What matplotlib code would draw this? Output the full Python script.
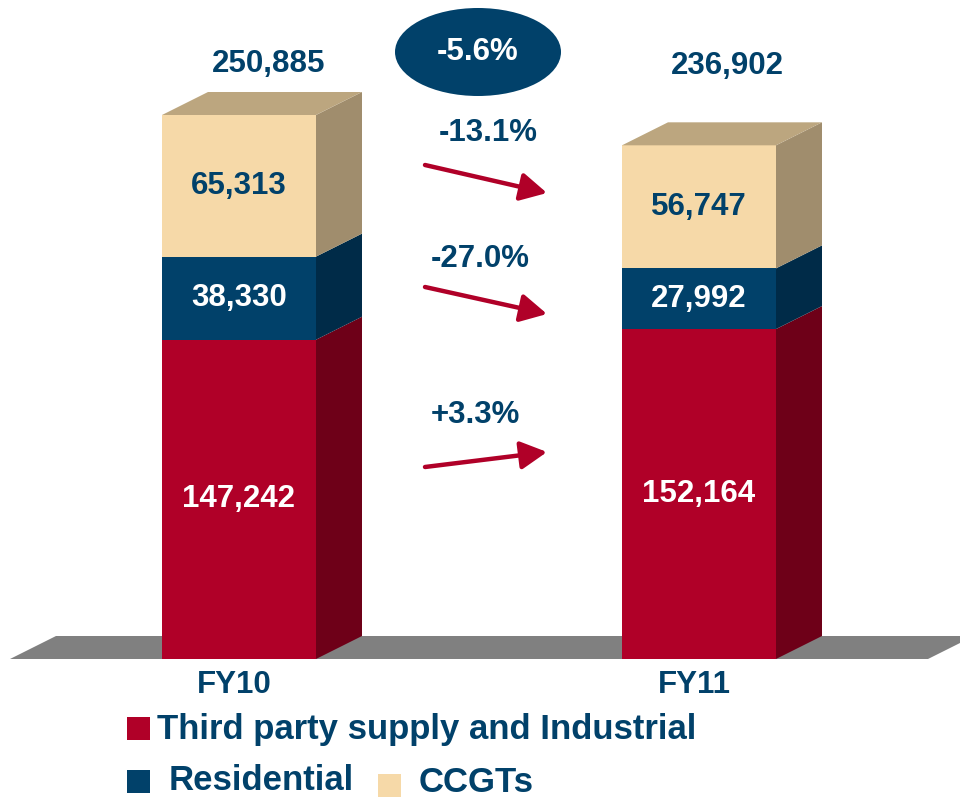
import matplotlib
matplotlib.use("Agg")
import matplotlib.pyplot as plt
from matplotlib.patches import Polygon, Ellipse, Rectangle

plt.rcParams['font.family'] = ['Liberation Sans', 'DejaVu Sans']

# ---- data ----
categories = ["FY10", "FY11"]
series_names = ["Third party supply and Industrial", "Residential", "CCGTs"]
industrial = [147242, 152164]
residential = [38330, 27992]
ccgt = [65313, 56747]
totals = [250885, 236902]
changes = ["+3.3%", "-27.0%", "-13.1%"]
total_change = "-5.6%"

NAVY = "#01416A"
front_cols = ["#B00028", "#01416A", "#F6D9A8"]
side_cols = ["#6E0018", "#002B48", "#A08D6D"]
top_col = "#BCA67F"
text_cols = ["white", "white", NAVY]
FS = 22.5

W, H = 960, 801
fig = plt.figure(figsize=(W / 100, H / 100), dpi=100)
ax = fig.add_axes([0, 0, 1, 1])
ax.axis("off")

# value scale: 0 sits on the floor line, pixels measured from the top
base_px = 659.0
k = (base_px - 115.0) / totals[0]          # pixels per unit
x0_px, step_px = 239.0, 460.0              # centre of first bar, spacing
ax.set_xlim(-x0_px / step_px, (W - x0_px) / step_px)
ax.set_ylim(-(H - base_px) / k, base_px / k)

def dx(px):
    return px / step_px

def dy(px):
    return px / k

bar_w = dx(154)
depth_x, depth_y = dx(46), dy(23)

# floor
floor = Polygon([(dx(10 - x0_px), 0), (dx(928 - x0_px), 0),
                 (dx(928 - x0_px) + depth_x, depth_y),
                 (dx(10 - x0_px) + depth_x, depth_y)],
                closed=True, facecolor="#808080", edgecolor="none", zorder=1)
ax.add_patch(floor)

stack = [industrial, residential, ccgt]
for i, cat in enumerate(categories):
    left, right = i - bar_w / 2, i + bar_w / 2
    bottom = 0
    for s, vals in enumerate(stack):
        v = vals[i]
        top = bottom + v
        ax.add_patch(Polygon([(left, bottom), (right, bottom), (right, top), (left, top)],
                             closed=True, facecolor=front_cols[s], edgecolor="none", zorder=3))
        ax.add_patch(Polygon([(right, bottom), (right + depth_x, bottom + depth_y),
                              (right + depth_x, top + depth_y), (right, top)],
                             closed=True, facecolor=side_cols[s], edgecolor="none", zorder=3))
        ax.text(i, bottom + v / 2, f"{v:,}", ha="center", va="center",
                fontsize=FS, fontweight="bold", color=text_cols[s], zorder=5)
        bottom = top
    ax.add_patch(Polygon([(left, bottom), (right, bottom), (right + depth_x, bottom + depth_y),
                          (left + depth_x, bottom + depth_y)],
                         closed=True, facecolor=top_col, edgecolor="none", zorder=3))
    ax.text(i + dx(30 if i == 0 else 28), bottom + dy(51 if i == 0 else 79),
            f"{totals[i]:,}", ha="center", va="center",
            fontsize=FS, fontweight="bold", color=NAVY)
    ax.text(i - dx(5), dy(-26), cat, ha="center", va="center",
            fontsize=FS, fontweight="bold", color=NAVY)

# change arrows between the bars
arrow_specs = [  # (start_y_px, end_y_px, label_x_px, label_y_px)
    (467, 452, 475, 415),
    (287, 314, 480, 259),
    (165, 193, 488, 133),
]
for (y_s, y_e, lx, ly), lab in zip(arrow_specs, changes):
    xs, xe = dx(425 - x0_px), dx(547 - x0_px)
    ys, ye = dy(base_px - y_s), dy(base_px - y_e)
    ax.annotate("", xy=(xe, ye), xytext=(xs, ys),
                arrowprops=dict(arrowstyle="-|>,head_length=1.6,head_width=0.85",
                                color="#B00028", lw=3.2, shrinkA=0, shrinkB=0))
    ax.text(dx(lx - x0_px), dy(base_px - ly), lab, ha="center", va="center",
            fontsize=FS, fontweight="bold", color=NAVY)

# overall change bubble
ax.add_patch(Ellipse((dx(478 - x0_px), dy(base_px - 52)), dx(166), dy(88),
                     facecolor=NAVY, edgecolor="none", zorder=4))
ax.text(dx(478 - x0_px), dy(base_px - 52), total_change, ha="center", va="center",
        fontsize=FS, fontweight="bold", color="white", zorder=5)

# legend
def legend_item(sx, sy, col, label, tx, ty):
    ax.add_patch(Rectangle((dx(sx - x0_px), dy(base_px - sy - 23)), dx(23), dy(23),
                           facecolor=col, edgecolor="none"))
    ax.text(dx(tx - x0_px), dy(base_px - ty), label, ha="left", va="center",
            fontsize=25, fontweight="bold", color=NAVY)

legend_item(127, 717, front_cols[0], series_names[0], 157, 729)
legend_item(127, 770, front_cols[1], series_names[1], 169, 781)
legend_item(378, 774, front_cols[2], series_names[2], 419, 782)

fig.savefig("out.png", dpi=100)
